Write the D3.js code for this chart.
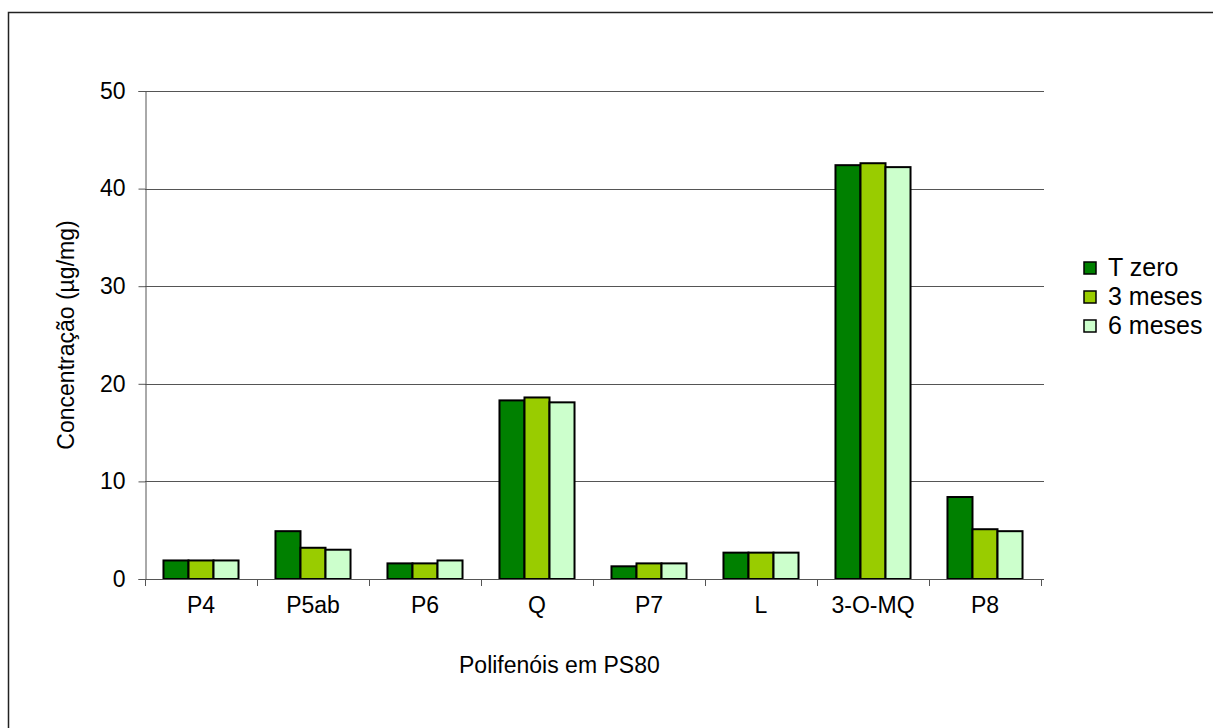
<!DOCTYPE html>
<html>
<head>
<meta charset="utf-8">
<script src="https://cdn.jsdelivr.net/npm/d3@7"></script>
<style>
  body { margin: 0; background: #fff; }
  text { font-family: "Liberation Sans", Arial, sans-serif; fill: #000; }
</style>
</head>
<body>
<svg id="js-svg" width="1213" height="728"></svg>
<script>
const categories = ["P4", "P5ab", "P6", "Q", "P7", "L", "3-O-MQ", "P8"];
const seriesNames = ["T zero", "3 meses", "6 meses"];
const tZero = [1.9, 4.9, 1.6, 18.3, 1.3, 2.7, 42.4, 8.4];
const tres = [1.9, 3.2, 1.6, 18.6, 1.6, 2.7, 42.6, 5.1];
const seis = [1.9, 3.0, 1.9, 18.1, 1.6, 2.7, 42.2, 4.9];
const yTicks = [0, 10, 20, 30, 40, 50];
const colors = ["#008000", "#99cc00", "#ccffcc"];

const seriesValues = [tZero, tres, seis];
const rows = categories.map((c, i) => ({
  cat: c,
  vals: seriesNames.map((s, j) => ({ key: s, value: seriesValues[j][i], idx: j })),
}));

const svg = d3.select("#js-svg");
const plotLeft = 145, plotRight = 1041, plotTop = 91, plotBottom = 579;
const fontSize = 23;

// outer frame (only left/top visible in the picture)
svg.append("rect")
  .attr("x", 8.5).attr("y", 12.5)
  .attr("width", 1300).attr("height", 800)
  .attr("fill", "none").attr("stroke", "#222").attr("stroke-width", 1.5);

const x = d3.scaleBand().domain(categories).range([plotLeft, plotRight])
  .paddingInner(0.33).paddingOuter(0.165);
const xs = d3.scaleBand().domain(seriesNames).range([0, x.bandwidth()]);
const y = d3.scaleLinear().domain([0, 50]).range([plotBottom, plotTop]);

// gridlines
svg.append("g").selectAll("line").data(yTicks.filter((d) => d > 0)).join("line")
  .attr("x1", plotLeft).attr("x2", plotRight + 3)
  .attr("y1", (d) => Math.round(y(d)) + 0.5).attr("y2", (d) => Math.round(y(d)) + 0.5)
  .attr("stroke", "#555").attr("stroke-width", 1);

// y axis
const yAxis = svg.append("g").attr("transform", `translate(${plotLeft + 0.5},0)`)
  .call(d3.axisLeft(y).tickValues(yTicks).tickSize(7).tickPadding(13).tickFormat(d3.format("d")));
yAxis.select(".domain").attr("stroke", "#555");
yAxis.selectAll(".tick line").attr("stroke", "#555");
yAxis.selectAll(".tick text").attr("font-size", fontSize).attr("fill", "#000")
  .attr("font-family", "Liberation Sans, Arial, sans-serif");

// bars
const groups = svg.append("g").selectAll("g").data(rows).join("g")
  .attr("transform", (d) => `translate(${x(d.cat)},0)`);
groups.selectAll("rect").data((d) => d.vals).join("rect")
  .attr("x", (d) => xs(d.key))
  .attr("y", (d) => y(d.value))
  .attr("width", xs.bandwidth())
  .attr("height", (d) => plotBottom - y(d.value))
  .attr("fill", (d) => colors[d.idx])
  .attr("stroke", "#000").attr("stroke-width", 2);

// x axis line and boundary ticks
svg.append("line")
  .attr("x1", plotLeft).attr("x2", plotRight + 3)
  .attr("y1", plotBottom + 0.5).attr("y2", plotBottom + 0.5)
  .attr("stroke", "#555");
const bounds = d3.range(categories.length + 1).map((i) => plotLeft + i * x.step());
svg.append("g").selectAll("line").data(bounds).join("line")
  .attr("x1", (d) => Math.round(d) + 0.5).attr("x2", (d) => Math.round(d) + 0.5)
  .attr("y1", plotBottom).attr("y2", plotBottom + 7)
  .attr("stroke", "#555");
svg.append("g").selectAll("text").data(categories).join("text")
  .attr("x", (d) => x(d) + x.bandwidth() / 2)
  .attr("y", 613)
  .attr("text-anchor", "middle").attr("font-size", fontSize)
  .text((d) => d);

// axis titles
svg.append("text")
  .attr("x", 459).attr("y", 673)
  .attr("font-size", fontSize)
  .text("Polifenóis em PS80");
svg.append("text")
  .attr("transform", `translate(74,${(plotTop + plotBottom) / 2}) rotate(-90)`)
  .attr("text-anchor", "middle").attr("font-size", fontSize)
  .text("Concentração (µg/mg)");

// legend
const legend = svg.append("g").selectAll("g").data(seriesNames).join("g")
  .attr("transform", (d, i) => `translate(1084,${262 + i * 29})`);
legend.append("rect")
  .attr("width", 12).attr("height", 12)
  .attr("fill", (d, i) => colors[i]).attr("stroke", "#000").attr("stroke-width", 1.5);
legend.append("text")
  .attr("x", 24).attr("y", 14)
  .attr("font-size", 25)
  .text((d) => d);
</script>
</body>
</html>
